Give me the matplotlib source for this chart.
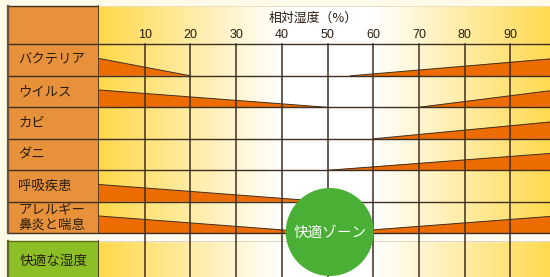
import matplotlib
matplotlib.use("Agg")
import matplotlib.pyplot as plt
from matplotlib.patches import Rectangle, Ellipse
import numpy as np

plt.rcParams['font.family'] = ['Noto Sans CJK JP', 'DejaVu Sans']

# data
humidity_ticks = [10, 20, 30, 40, 50, 60, 70, 80, 90]
row_labels = ['バクテリア', 'ウイルス', 'カビ', 'ダニ', '呼吸疾患', 'アレルギー\n鼻炎と喘息']
left_end = [20, 50, None, None, 50, 50]       # risk falls to zero here (from 0%)
right_start = [55, 70, 60, 50, None, 50]      # risk starts rising here (to 100%)
axis_title = '相対湿度（%）'
comfort_label = '快適な湿度'
zone_label = '快適ゾーン'
zone_center = 50.5

# colours
bg = '#FFFBE8'
yellow = np.array([1.0, 0.85, 0.29])
orange = '#ED6C00'
dark = '#3E2F22'
cell_orange = '#E8913B'
cell_green = '#8CBF26'
zone_green = '#49B035'
txt = '#2A1D10'

# layout in pixels (figure 550x277)
W, H = 550, 277
x0 = 99
px_unit = 4.57
top = 6
head_bot = 44.3
row_h = 31.5
rows_bot = head_bot + row_h * len(row_labels)
green_top = 241
wedge_h = 0.55 * row_h

fig = plt.figure(figsize=(5.5, 2.77), dpi=100)
fig.patch.set_facecolor(bg)

# plot area, x in % humidity, y in pixels from top
ax = fig.add_axes([x0 / W, 0, (W - x0) / W, 1])
xmax = (W - x0) / px_unit
ax.set_xlim(0, xmax)
ax.set_ylim(H, 0)
ax.axis('off')

# background gradient: yellow at the dry and wet ends, white in the middle
h = np.linspace(0, 100, 600)
f = np.clip((40 - h) / 40, 0, 1) + np.clip((h - 60) / 40, 0, 1)
grad = 1 - f[:, None] * (1 - yellow[None, :])
ax.imshow(grad[None, :, :], extent=[0, 100, H, top], aspect='auto', zorder=0)
ax.add_patch(Rectangle((0, rows_bot), 100, green_top - rows_bot, color='#FFFBEF', zorder=1))
ax.plot([0, 100], [green_top, green_top], color='#D9D0BE', lw=0.6, zorder=1)

# wedges
for i in range(len(row_labels)):
    yb = head_bot + row_h * (i + 1)
    if left_end[i] is not None:
        ax.fill([0, left_end[i], 0], [yb, yb, yb - wedge_h], color=orange, lw=0, zorder=2)
        ax.plot([0, left_end[i]], [yb - wedge_h, yb], color=dark, lw=0.7, zorder=2)
    if right_start[i] is not None:
        ax.fill([right_start[i], 100, 100], [yb, yb, yb - wedge_h], color=orange, lw=0, zorder=2)
        ax.plot([right_start[i], 100], [yb, yb - wedge_h], color=dark, lw=0.7, zorder=2)

# grid
for t in humidity_ticks:
    ax.plot([t, t], [head_bot, H], color=dark, lw=1.1, zorder=3)
    ax.text(t, 35, str(t), ha='center', va='center', fontsize=9,
            family=['Liberation Sans', 'DejaVu Sans'], color=txt, zorder=4)
for i in range(len(row_labels) + 1):
    y = head_bot + row_h * i
    ax.plot([0, 100], [y, y], color=dark, lw=1.0, zorder=3)
ax.plot([0, 100], [top, top], color='#E8DCC0', lw=0.6, zorder=3)
ax.text(46.8, 18, axis_title, ha='center', va='center', fontsize=9.3, color=txt, zorder=4)

# comfort zone circle
r = 44
ax.add_patch(Ellipse((zone_center, 232), 2 * r / px_unit, 2 * r, color=zone_green, lw=0, zorder=5))
ax.text(zone_center, 233, zone_label, ha='center', va='center', fontsize=10.5, color='white', zorder=6)

# label column
lab = fig.add_axes([0, 0, x0 / W, 1])
lab.set_xlim(0, x0)
lab.set_ylim(H, 0)
lab.axis('off')
lab.add_patch(Rectangle((8, top), x0 - 8, rows_bot - top, facecolor=cell_orange, edgecolor='none'))
lab.add_patch(Rectangle((8, green_top), x0 - 8, H - green_top + 2, facecolor=cell_green, edgecolor='none'))
for i in range(len(row_labels) + 1):
    y = head_bot + row_h * i
    lab.plot([8, x0], [y, y], color=dark, lw=1.0)
lab.plot([8, x0], [top, top], color=dark, lw=1.0)
lab.plot([8, 8], [top, rows_bot], color='#6B5235', lw=1.6)
lab.plot([x0, x0], [top, rows_bot], color=dark, lw=1.2)
lab.plot([8, 8], [green_top, H], color='#5E6A1E', lw=1.6)
lab.plot([8, x0], [green_top, green_top], color='#5E6A1E', lw=1.0)
lab.plot([x0, x0], [green_top, H], color=dark, lw=1.2)
for i, name in enumerate(row_labels):
    yc = head_bot + row_h * (i + 0.5)
    lab.text(18, yc, name, ha='left', va='center', fontsize=9.6, color=txt, linespacing=1.0)
lab.text(20, (green_top + H) / 2 + 2, comfort_label, ha='left', va='center', fontsize=9.8, color=txt)

fig.savefig('out.png', dpi=100, facecolor=bg)
